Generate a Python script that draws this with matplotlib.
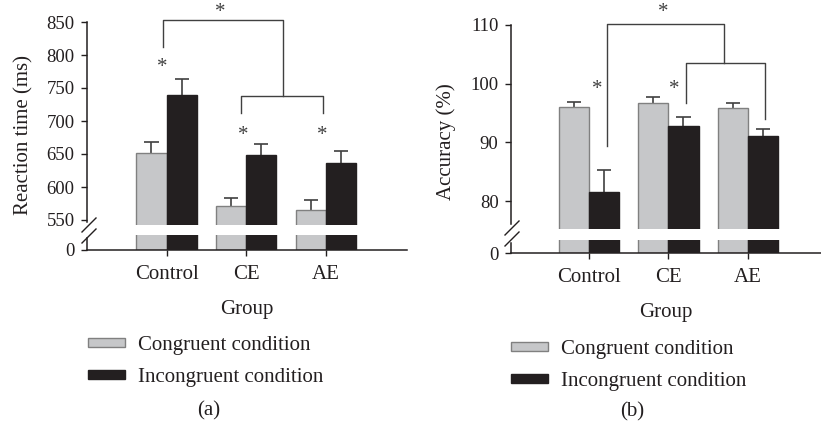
## Import libraries
import numpy as np
from matplotlib import pyplot as plt
from matplotlib.patches import Patch

## Data
groups = ['Control', 'CE', 'AE']
rt_congruent = [652, 571, 565]
rt_congruent_err = [16, 12, 15]
rt_incongruent = [740, 648, 637]
rt_incongruent_err = [23, 17, 18]

acc_congruent = [96.0, 96.7, 95.9]
acc_congruent_err = [0.8, 1.0, 0.8]
acc_incongruent = [81.5, 92.8, 91.1]
acc_incongruent_err = [3.7, 1.5, 1.2]

rt_ticks = [550, 600, 650, 700, 750, 800, 850]
acc_ticks = [80, 90, 100, 110]

## Style
plt.rcParams['font.family'] = ['Liberation Serif', 'DejaVu Serif']
plt.rcParams['font.size'] = 15
TXT = '#231f20'
LIGHT = '#c6c7c9'
LIGHT_EDGE = '#808080'
DARK = '#231f20'
LINE = '#404040'

W, H = 821, 436


def rect(x0, y0, x1, y1):
    # pixel box -> figure fraction [left, bottom, width, height]
    return [x0 / W, 1 - y1 / H, (x1 - x0) / W, (y1 - y0) / H]


def fpt(x, y):
    return x / W, 1 - y / H


fig = plt.figure(figsize=(8.21, 4.36), dpi=100)

x = np.arange(len(groups))
bw = 0.38


def draw_bars(ax, cong, incong):
    ax.bar(x - bw / 2, cong, bw, color=LIGHT, edgecolor=LIGHT_EDGE, linewidth=1, zorder=2)
    ax.bar(x + bw / 2, incong, bw, color=DARK, edgecolor=DARK, linewidth=1, zorder=2)


def draw_err(ax, cong, cong_err, incong, incong_err):
    for xs, v, e in [(x - bw / 2, cong, cong_err), (x + bw / 2, incong, incong_err)]:
        v = np.array(v)
        e = np.array(e)
        ax.vlines(xs, v, v + e, color=LINE, linewidth=1.2, zorder=1)
        ax.hlines(v + e, xs - 0.09, xs + 0.09, color=LINE, linewidth=1.2, zorder=1)


def style_axes(top, bottom, top_lo, top_hi, ticks, xlim):
    for ax in (top, bottom):
        ax.spines['top'].set_visible(False)
        ax.spines['right'].set_visible(False)
        ax.spines['left'].set_color(TXT)
        ax.spines['bottom'].set_color(TXT)
        ax.spines['left'].set_linewidth(1.1)
        ax.spines['bottom'].set_linewidth(1.1)
        ax.set_xlim(*xlim)
        ax.tick_params(colors=TXT, length=4, width=1, direction='out')
        ax.tick_params(axis='y', labelsize=13.5, pad=5)
    top.spines['bottom'].set_visible(False)
    top.tick_params(axis='x', bottom=False, labelbottom=False)
    top.set_yticks(ticks)
    top.spines['left'].set_bounds(top_lo, top_hi)
    bottom.set_ylim(0, 10)
    bottom.set_yticks([0])
    bottom.spines['left'].set_bounds(0, 8)
    bottom.set_xticks(x)
    bottom.set_xticklabels(groups)
    bottom.tick_params(axis='x', pad=7)
    bottom.set_xlabel('Group', labelpad=11, color=TXT)


def slashes(x0, y0):
    for dy in (0, 11):
        fig.add_artist(plt.Line2D([x0 / W, (x0 + 14) / W],
                                  [1 - (y0 + dy) / H, 1 - (y0 + dy - 14) / H],
                                  color=TXT, linewidth=1))


def bracket(ax, xs, ys):
    ax.plot(xs, ys, color=LINE, linewidth=1, clip_on=False, zorder=3)


def star(ax, xx, yy):
    ax.text(xx, yy, '*', ha='center', va='center', fontsize=15, color=LINE, clip_on=False)


## (a) Reaction time
a_top = fig.add_axes(rect(87, 22, 407, 225))
a_bot = fig.add_axes(rect(87, 235, 407, 250))
a_top.set_ylim(550 - 5 * 300 / 198, 850)
for ax in (a_top, a_bot):
    draw_bars(ax, rt_congruent, rt_incongruent)
draw_err(a_top, rt_congruent, rt_congruent_err, rt_incongruent, rt_incongruent_err)
style_axes(a_top, a_bot, 547, 850, rt_ticks, (-1.0, 3.02))
slashes(82, 232)

bracket(a_top, [-0.05, -0.05, 1.46, 1.46], [812, 853, 853, 738])
bracket(a_top, [0.93, 0.93, 1.96, 1.96], [712, 738, 738, 712])
star(a_top, 0.67, 864)
star(a_top, -0.05, 781)
star(a_top, 0.96, 678)
star(a_top, 1.96, 678)

fig.text(*fpt(24, 135), 'Reaction time (ms)', rotation=90, ha='center', va='center', color=TXT)

## (b) Accuracy
b_top = fig.add_axes(rect(511, 25, 821, 229))
b_bot = fig.add_axes(rect(511, 240, 821, 253))
b_top.set_ylim(80 - 28 * 30 / 176, 110)
for ax in (b_top, b_bot):
    draw_bars(ax, acc_congruent, acc_incongruent)
draw_err(b_top, acc_congruent, acc_congruent_err, acc_incongruent, acc_incongruent_err)
style_axes(b_top, b_bot, 76, 110, acc_ticks, (-0.98, 2.92))
slashes(505, 235)

bracket(b_top, [0.23, 0.23, 1.70, 1.70], [89.4, 110.2, 110.2, 103.5])
bracket(b_top, [1.22, 1.22, 2.21, 2.21], [96.7, 103.5, 103.5, 94.0])
star(b_top, 0.93, 112.2)
star(b_top, 0.10, 99.0)
star(b_top, 1.07, 99.0)

fig.text(*fpt(446, 142), 'Accuracy (%)', rotation=90, ha='center', va='center', color=TXT)

## Legends
handles = [Patch(facecolor=LIGHT, edgecolor=LIGHT_EDGE, linewidth=1),
           Patch(facecolor=DARK, edgecolor=DARK, linewidth=1)]
labels = ['Congruent condition', 'Incongruent condition']
for lx, ly in [(88, 336), (511, 340)]:
    leg = fig.legend(handles, labels, loc='upper left', bbox_to_anchor=fpt(lx, ly),
                     frameon=False, borderpad=0, borderaxespad=0,
                     handlelength=1.78, handleheight=0.29, handletextpad=0.63,
                     labelspacing=0.62)
    for t in leg.get_texts():
        t.set_color(TXT)

fig.text(*fpt(209, 411), '(a)', ha='center', va='center', color=TXT)
fig.text(*fpt(632, 412), '(b)', ha='center', va='center', color=TXT)

plt.savefig('out.png', dpi=100)
plt.close('all')
